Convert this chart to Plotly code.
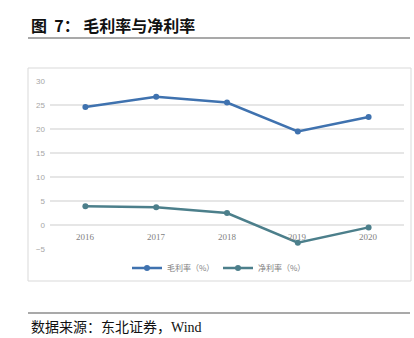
import plotly.graph_objects as go

years = ["2016", "2017", "2018", "2019", "2020"]
gross_margin = [24.6, 26.7, 25.5, 19.5, 22.5]
net_margin = [3.9, 3.7, 2.5, -3.7, -0.5]
y_ticks = [-5, 0, 5, 10, 15, 20, 25, 30]
series_names = ["毛利率（%）", "净利率（%）"]
title_text = "<b>图\u00a0\u00a07：\u00a0毛利率与净利率</b>"
source_text = "数据来源：东北证券，Wind"

W, H = 414, 338
L, R, T, B = 50, 10, 81, 89
pw, ph = W - L - R, H - T - B

def px(xpix):
    return (xpix - L) / pw

def py(ypix):
    return (H - B - ypix) / ph

fig = go.Figure()
fig.add_trace(go.Scatter(x=years, y=gross_margin, name=series_names[0], mode="lines+markers",
                         line=dict(color="#3F72AF", width=2.5), marker=dict(size=6, color="#3F72AF")))
fig.add_trace(go.Scatter(x=years, y=net_margin, name=series_names[1], mode="lines+markers",
                         line=dict(color="#4C7F8B", width=2.5), marker=dict(size=6, color="#4C7F8B")))

for i, yr in enumerate(years):
    fig.add_annotation(x=i, y=0, xref="x", yref="y", text=yr, showarrow=False,
                       yanchor="top", yshift=-5,
                       font=dict(family="Liberation Serif", size=9, color="#7f7f7f"))

fig.add_annotation(x=px(29), y=py(25), xref="paper", yref="paper", text=title_text, showarrow=False,
                   xanchor="left", yanchor="middle",
                   font=dict(family="Noto Sans CJK SC", size=16, color="#111111"))
fig.add_annotation(x=px(29), y=py(327), xref="paper", yref="paper", text=source_text, showarrow=False,
                   xanchor="left", yanchor="middle",
                   font=dict(family="Liberation Serif, Noto Sans CJK SC", size=14, color="#111111"))

fig.add_shape(type="line", xref="paper", yref="paper", x0=px(28), x1=px(410), y0=py(38), y1=py(38),
              line=dict(color="#8c8c8c", width=1.5))
fig.add_shape(type="line", xref="paper", yref="paper", x0=px(28), x1=px(410), y0=py(313), y1=py(313),
              line=dict(color="#8c8c8c", width=1.5))
fig.add_shape(type="rect", xref="paper", yref="paper", x0=px(28), x1=px(411), y0=py(281), y1=py(68),
              line=dict(color="#d9d9d9", width=1), layer="below")

fig.update_layout(
    width=W, height=H,
    margin=dict(l=L, r=R, t=T, b=B),
    paper_bgcolor="white", plot_bgcolor="white",
    showlegend=True,
    legend=dict(orientation="h", x=px(218), y=py(268), xanchor="center", yanchor="middle",
                font=dict(family="Noto Sans CJK SC", size=8, color="#7f7f7f"),
                itemwidth=30, entrywidth=46, bgcolor="rgba(0,0,0,0)"),
    xaxis=dict(type="category", range=[-0.5, 4.5], showticklabels=False, showgrid=False,
               zeroline=False, showline=False, ticks=""),
    yaxis=dict(range=[-5, 30], tickvals=y_ticks, showgrid=True, gridcolor="#e6e6e6", gridwidth=1.5,
               zeroline=False, showline=False, ticks="",
               tickfont=dict(family="Liberation Sans", size=8, color="#a6a6a6"),
               ticklabelstandoff=4),
)

fig.write_html("out.html")
